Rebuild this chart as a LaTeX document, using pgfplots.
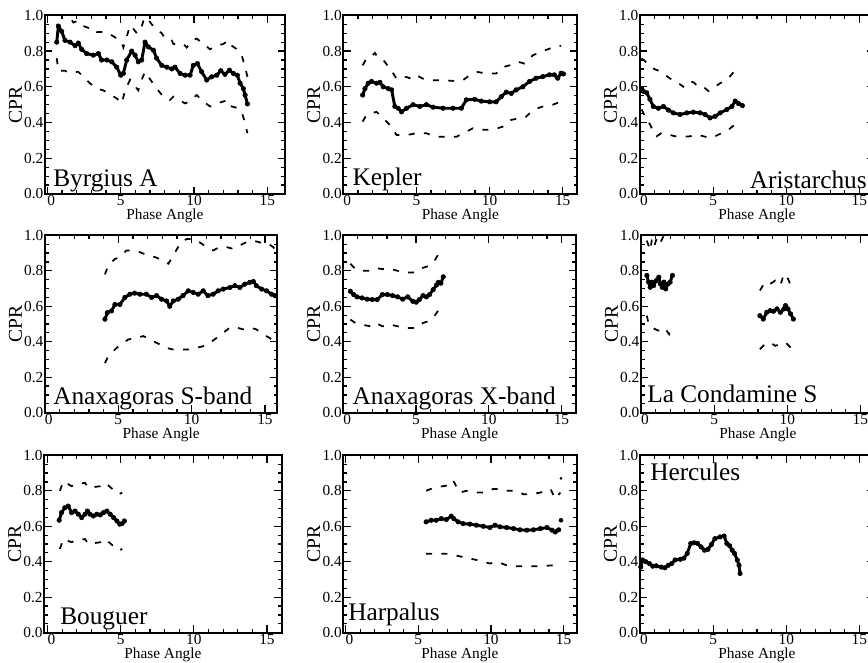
\documentclass[border=0pt]{standalone}
\usepackage{fontspec}
\setmainfont{Liberation Serif}
\usepackage{pgfplots}
\pgfplotsset{compat=1.18}

% 1 px of the reference = 0.75pt
\pgfplotsset{
  panel/.style={
    scale only axis,
    anchor=south west,
    ymin=0, ymax=1,
    ytick={0,0.2,0.4,0.6,0.8,1.0},
    xtick={0,5,10,15},
    xticklabels={\makebox[0pt][l]{0},5,10,15},
    minor x tick num=4, minor y tick num=3,
    tick align=inside,
    major tick length=5.5pt, minor tick length=2.8pt,
    tick style={black, line width=0.9pt},
    axis line style={black, line width=1.6pt},
    /pgf/number format/assume math mode=true,
    y tick label style={/pgf/number format/fixed, /pgf/number format/fixed zerofill, /pgf/number format/precision=1, inner sep=1pt},
    x tick label style={inner sep=1pt},
    tick label style={font=\fontsize{11.5}{13}\selectfont},
    xlabel={Phase Angle}, ylabel={CPR},
    xlabel style={font=\fontsize{11.5}{13}\selectfont, inner sep=1pt},
    ylabel style={font=\fontsize{14.7}{16}\selectfont, inner sep=0.5pt},
    clip mode=individual,
  },
  mid/.style={black, line width=2.2pt, line join=round, mark=*, mark size=1.7pt, mark options={line width=0.4pt}},
  bnd/.style={black, line width=1.3pt, dash pattern=on 4.5pt off 7pt},
}
\tikzset{lab/.style={font=\fontsize{19}{21}\selectfont, inner sep=0pt}}

\begin{document}
\begin{tikzpicture}

% ---------- row 1 ----------
\begin{axis}[panel, at={(33.75pt,-145.5pt)}, width=180pt, height=134pt, xmin=-0.16, xmax=16.2]
\addplot[bnd] coordinates {(0.64,1.12) (0.98,1.08) (1.2,1.03) (1.55,0.99) (1.77,0.96) (2.11,0.97) (2.45,0.94) (2.8,0.93) (3.25,0.925) (3.36,0.907) (3.93,0.907) (4.39,0.888) (4.75,0.87) (5.07,0.85) (5.18,0.82) (5.41,0.88) (5.64,0.944) (5.86,0.925) (6.1,0.9) (6.32,0.907) (6.55,0.97) (6.77,0.99) (7.11,0.95) (7.45,0.92) (7.8,0.9) (8.02,0.87) (8.48,0.86) (8.59,0.84) (9.27,0.84) (9.5,0.82) (9.9,0.86) (10.18,0.87) (10.64,0.84) (11.09,0.81) (11.55,0.83) (12.0,0.84) (12.34,0.86) (12.57,0.83) (13.02,0.805) (13.25,0.777) (13.48,0.71) (13.64,0.656)};
\addplot[bnd] coordinates {(0.64,0.76) (0.75,0.69) (1.2,0.69) (1.43,0.68) (2.11,0.684) (2.9,0.62) (3.36,0.59) (3.82,0.58) (4.73,0.535) (5.07,0.507) (5.3,0.58) (5.64,0.64) (6.2,0.58) (6.43,0.64) (6.66,0.684) (6.89,0.656) (7.45,0.59) (7.9,0.545) (8.36,0.526) (8.59,0.545) (9.39,0.507) (9.61,0.515) (10.18,0.554) (10.64,0.517) (11.09,0.49) (11.55,0.507) (12.34,0.526) (12.57,0.49) (13.02,0.48) (13.25,0.46) (13.48,0.396) (13.64,0.34)};
\addplot[mid] coordinates {(0.64,0.85) (0.75,0.94) (0.98,0.91) (1.2,0.86) (1.55,0.85) (1.89,0.83) (2.11,0.845) (2.34,0.81) (2.68,0.786) (3.14,0.777) (3.48,0.786) (3.7,0.75) (4.05,0.75) (4.39,0.74) (4.73,0.71) (5.0,0.665) (5.18,0.675) (5.41,0.75) (5.75,0.80) (5.98,0.777) (6.2,0.74) (6.43,0.75) (6.66,0.85) (6.89,0.823) (7.23,0.805) (7.45,0.76) (7.8,0.72) (8.14,0.71) (8.48,0.70) (8.7,0.71) (9.05,0.675) (9.39,0.665) (9.73,0.665) (9.95,0.72) (10.23,0.73) (10.52,0.684) (10.86,0.638) (11.2,0.656) (11.55,0.665) (11.82,0.69) (12.11,0.67) (12.41,0.693) (12.68,0.675) (12.95,0.665) (13.14,0.62) (13.36,0.59) (13.48,0.554) (13.64,0.504)};
\node[lab, anchor=base west] at ([shift={(6pt,6pt)}]rel axis cs:0,0) {Byrgius A};
\end{axis}

\begin{axis}[panel, at={(257.5pt,-145.5pt)}, width=175.5pt, height=134pt, xmin=0, xmax=16]
\addplot[bnd] coordinates {(1.32,0.72) (1.59,0.76) (1.93,0.77) (2.16,0.79) (2.39,0.76) (2.73,0.75) (3.3,0.69) (3.64,0.645) (4.32,0.655) (4.66,0.645) (5.0,0.665) (5.45,0.645) (6.14,0.637) (6.82,0.637) (7.5,0.633) (8.18,0.637) (8.64,0.665) (9.2,0.683) (9.77,0.674) (10.45,0.674) (10.9,0.71) (11.36,0.72) (11.93,0.74) (12.39,0.73) (12.95,0.776) (13.64,0.80) (14.32,0.82) (14.89,0.83)};
\addplot[bnd] coordinates {(1.32,0.405) (1.59,0.443) (1.93,0.452) (2.27,0.46) (2.61,0.433) (3.3,0.377) (3.64,0.33) (4.32,0.33) (5.0,0.34) (5.68,0.34) (6.36,0.32) (7.05,0.32) (7.73,0.32) (8.18,0.34) (8.86,0.368) (9.55,0.36) (10.23,0.36) (10.9,0.377) (11.48,0.415) (12.05,0.424) (12.5,0.433) (12.95,0.47) (13.64,0.49) (14.32,0.50) (14.89,0.517)};
\addplot[mid] coordinates {(1.32,0.554) (1.48,0.59) (1.7,0.62) (1.93,0.63) (2.27,0.62) (2.5,0.625) (2.73,0.60) (3.07,0.59) (3.3,0.583) (3.52,0.49) (3.75,0.48) (3.98,0.46) (4.32,0.48) (4.77,0.50) (5.23,0.49) (5.68,0.50) (6.14,0.486) (6.82,0.48) (7.5,0.48) (8.07,0.48) (8.41,0.527) (8.98,0.53) (9.43,0.52) (10.0,0.516) (10.45,0.516) (10.8,0.545) (11.14,0.57) (11.48,0.563) (11.82,0.583) (12.27,0.60) (12.73,0.63) (13.18,0.648) (13.64,0.657) (14.09,0.667) (14.43,0.667) (14.66,0.648) (14.89,0.676) (15.05,0.672)};
\node[lab, anchor=base west] at ([shift={(6.75pt,6.5pt)}]rel axis cs:0,0) {Kepler};
\end{axis}

\begin{axis}[panel, at={(480pt,-145.5pt)}, width=175.5pt, height=134pt, xmin=0, xmax=16]
\addplot[bnd] coordinates {(0.11,0.76) (0.34,0.744) (0.68,0.716) (1.03,0.697) (1.37,0.688) (1.83,0.66) (2.17,0.64) (2.63,0.62) (2.97,0.60) (3.31,0.63) (3.65,0.626) (4.0,0.60) (4.34,0.60) (4.68,0.576) (5.02,0.594) (5.48,0.62) (5.94,0.64) (6.28,0.67) (6.51,0.697) (6.74,0.68)};
\addplot[bnd] coordinates {(0.11,0.473) (0.34,0.435) (0.68,0.39) (0.91,0.35) (1.14,0.323) (1.48,0.342) (1.94,0.333) (2.4,0.323) (2.97,0.32) (3.42,0.323) (3.88,0.333) (4.34,0.323) (4.79,0.314) (5.14,0.323) (5.6,0.342) (6.05,0.36) (6.51,0.39)};
\addplot[mid] coordinates {(0.11,0.59) (0.23,0.575) (0.46,0.566) (0.68,0.53) (0.91,0.49) (1.26,0.48) (1.6,0.49) (1.94,0.47) (2.28,0.454) (2.74,0.445) (3.2,0.454) (3.65,0.458) (4.11,0.454) (4.45,0.445) (4.79,0.426) (5.14,0.435) (5.48,0.454) (5.94,0.473) (6.28,0.49) (6.51,0.52) (6.74,0.506) (7.0,0.495)};
\node[lab, anchor=base east] at ([shift={(-5.25pt,4.5pt)}]rel axis cs:1,0) {Aristarchus};
\end{axis}

% ---------- row 2 ----------
\begin{axis}[panel, at={(33.75pt,-309.5pt)}, width=174.2pt, height=133pt, xmin=0, xmax=15.84]
\addplot[bnd] coordinates {(4.09,0.78) (4.31,0.83) (4.77,0.867) (5.11,0.877) (5.56,0.915) (6.01,0.915) (6.47,0.905) (7.04,0.886) (7.51,0.877) (8.06,0.858) (8.41,0.84) (8.75,0.886) (9.21,0.953) (9.66,0.98) (10.11,0.98) (10.56,0.96) (11.01,0.934) (11.47,0.915) (11.91,0.934) (12.38,0.934) (12.81,0.924) (13.29,0.943) (13.75,0.962) (14.21,0.97) (14.66,0.96) (15.11,0.96) (15.56,0.934) (15.75,0.915)};
\addplot[bnd] coordinates {(4.09,0.28) (4.31,0.318) (4.88,0.365) (5.34,0.394) (5.68,0.413) (6.25,0.422) (6.71,0.432) (7.16,0.413) (7.84,0.384) (8.29,0.365) (8.75,0.356) (9.21,0.356) (9.77,0.356) (10.31,0.365) (10.79,0.375) (11.25,0.394) (11.71,0.422) (12.16,0.45) (12.61,0.48) (13.06,0.48) (13.51,0.47) (13.97,0.48) (14.41,0.47) (14.88,0.44) (15.31,0.422) (15.68,0.394)};
\addplot[mid] coordinates {(4.09,0.527) (4.25,0.564) (4.54,0.574) (4.77,0.61) (5.11,0.61) (5.45,0.65) (5.79,0.668) (6.11,0.674) (6.47,0.668) (6.91,0.668) (7.27,0.65) (7.61,0.66) (7.95,0.64) (8.29,0.63) (8.51,0.60) (8.75,0.63) (9.09,0.64) (9.41,0.66) (9.77,0.687) (10.11,0.678) (10.45,0.668) (10.79,0.687) (11.11,0.66) (11.47,0.668) (11.81,0.687) (12.16,0.697) (12.61,0.706) (12.95,0.716) (13.29,0.706) (13.63,0.725) (13.97,0.735) (14.21,0.74) (14.41,0.716) (14.77,0.697) (15.11,0.687) (15.45,0.668) (15.68,0.66)};
\node[lab, anchor=base west] at ([shift={(6pt,5.8pt)}]rel axis cs:0,0) {Anaxagoras S-band};
\end{axis}

\begin{axis}[panel, at={(257.5pt,-309.5pt)}, width=174.5pt, height=133pt, xmin=0, xmax=16]
\addplot[bnd] coordinates {(0.48,0.84) (0.83,0.81) (1.29,0.8) (1.87,0.8) (2.23,0.815) (2.69,0.81) (3.27,0.81) (3.73,0.8) (4.32,0.79) (4.78,0.79) (5.23,0.8) (5.48,0.817) (5.83,0.826) (6.18,0.845) (6.53,0.892)};
\addplot[bnd] coordinates {(0.48,0.525) (0.83,0.506) (1.29,0.496) (1.87,0.487) (2.23,0.506) (2.69,0.487) (3.27,0.496) (3.73,0.487) (4.32,0.477) (4.78,0.477) (5.23,0.487) (5.48,0.506) (5.83,0.515) (6.18,0.534) (6.53,0.577)};
\addplot[mid] coordinates {(0.48,0.685) (0.71,0.666) (0.94,0.653) (1.29,0.647) (1.63,0.64) (1.99,0.638) (2.33,0.638) (2.69,0.666) (3.03,0.666) (3.39,0.66) (3.73,0.653) (4.08,0.64) (4.43,0.653) (4.78,0.628) (5.01,0.623) (5.23,0.638) (5.48,0.66) (5.71,0.653) (5.93,0.666) (6.18,0.694) (6.41,0.72) (6.53,0.735) (6.71,0.73) (6.87,0.766)};
\node[lab, anchor=base west] at ([shift={(6.75pt,5.8pt)}]rel axis cs:0,0) {Anaxagoras X-band};
\end{axis}

\begin{axis}[panel, at={(480.75pt,-309.5pt)}, width=175.5pt, height=133pt, xmin=0, xmax=16]
\addplot[bnd] coordinates {(0.4,0.97) (0.63,0.915) (0.75,0.98) (0.91,0.94) (1.1,0.99) (1.33,0.96) (1.57,1.0) (1.8,0.98)};
\addplot[bnd] coordinates {(0.4,0.547) (0.52,0.5) (0.75,0.48) (0.99,0.47) (1.22,0.462) (1.45,0.453) (1.69,0.47) (1.92,0.443) (2.15,0.5)};
\addplot[mid] coordinates {(0.4,0.774) (0.52,0.736) (0.63,0.707) (0.75,0.736) (0.87,0.717) (1.05,0.745) (1.22,0.764) (1.33,0.726) (1.45,0.707) (1.57,0.736) (1.69,0.698) (1.85,0.726) (1.99,0.736) (2.15,0.774)};
\addplot[bnd] coordinates {(8.13,0.689) (8.48,0.736) (8.83,0.726) (9.18,0.745) (9.53,0.717) (9.77,0.783) (10.05,0.755) (10.35,0.698)};
\addplot[bnd] coordinates {(8.13,0.358) (8.48,0.387) (8.83,0.396) (9.18,0.377) (9.53,0.387) (9.88,0.396) (10.23,0.368)};
\addplot[mid] coordinates {(8.13,0.547) (8.36,0.528) (8.6,0.566) (8.83,0.575) (9.06,0.572) (9.3,0.585) (9.53,0.566) (9.77,0.585) (9.88,0.604) (10.05,0.585) (10.23,0.557) (10.42,0.528)};
\node[lab, anchor=base west] at ([shift={(4.5pt,7.3pt)}]rel axis cs:0,0) {La Condamine S};
\end{axis}

% ---------- row 3 ----------
\begin{axis}[panel, at={(33.2pt,-474.5pt)}, width=178pt, height=133pt, xmin=-0.23, xmax=16]
\addplot[bnd] coordinates {(0.84,0.8) (1.07,0.854) (1.64,0.826) (1.87,0.836) (2.56,0.845) (2.79,0.817) (3.6,0.826) (3.94,0.845) (4.86,0.78) (5.1,0.79)};
\addplot[bnd] coordinates {(0.84,0.472) (1.07,0.528) (1.64,0.51) (1.87,0.519) (2.56,0.528) (2.79,0.5) (3.6,0.51) (3.94,0.528) (4.86,0.463) (5.1,0.472)};
\addplot[mid] coordinates {(0.79,0.634) (0.95,0.677) (1.18,0.705) (1.41,0.714) (1.64,0.677) (1.87,0.686) (2.1,0.668) (2.33,0.649) (2.56,0.668) (2.72,0.686) (2.9,0.668) (3.13,0.658) (3.36,0.668) (3.6,0.664) (3.82,0.677) (4.05,0.686) (4.28,0.668) (4.51,0.649) (4.74,0.63) (4.93,0.612) (5.1,0.616) (5.25,0.63)};
\node[lab, anchor=base west] at ([shift={(11.8pt,6.5pt)}]rel axis cs:0,0) {Bouguer};
\end{axis}

\begin{axis}[panel, at={(257.5pt,-474.5pt)}, width=175pt, height=133pt, xmin=-0.16, xmax=15.9]
\addplot[bnd] coordinates {(5.54,0.80) (6.0,0.815) (6.23,0.82) (7.0,0.83) (7.39,0.86) (7.85,0.79) (8.3,0.80) (9.0,0.79) (9.47,0.79) (10.16,0.81) (10.5,0.81) (11.2,0.80) (11.8,0.80) (12.24,0.78) (12.7,0.78) (13.4,0.79) (14.1,0.81) (14.43,0.755) (14.78,0.79)};
\addplot[bnd] coordinates {(5.54,0.445) (6.23,0.445) (7.16,0.445) (7.5,0.437) (8.55,0.418) (9.0,0.41) (9.93,0.39) (10.4,0.40) (11.08,0.38) (11.55,0.375) (12.24,0.375) (12.93,0.375) (13.4,0.375) (14.3,0.38) (14.55,0.37)};
\addplot[mid] coordinates {(5.54,0.625) (5.89,0.634) (6.23,0.634) (6.58,0.643) (6.93,0.638) (7.27,0.657) (7.44,0.643) (7.74,0.625) (8.08,0.615) (8.55,0.612) (9.0,0.606) (9.47,0.6) (9.93,0.593) (10.28,0.606) (10.62,0.597) (11.08,0.593) (11.55,0.587) (12.0,0.58) (12.47,0.578) (12.93,0.58) (13.4,0.587) (13.86,0.593) (14.2,0.578) (14.43,0.568) (14.66,0.58)};
\addplot[black, only marks, mark=*, mark size=1.5pt] coordinates {(14.82,0.634)};
\addplot[black, only marks, mark=*, mark size=0.8pt] coordinates {(14.82,0.87)};
\node[lab, anchor=base west] at ([shift={(3.5pt,9.5pt)}]rel axis cs:0,0) {Harpalus};
\end{axis}

\begin{axis}[panel, at={(480pt,-474.5pt)}, width=175.5pt, height=133pt, xmin=0, xmax=16]
\addplot[mid] coordinates {(0.05,0.37) (0.17,0.41) (0.4,0.40) (0.64,0.39) (0.87,0.375) (1.11,0.377) (1.46,0.37) (1.7,0.366) (1.93,0.38) (2.17,0.39) (2.4,0.41) (2.76,0.414) (3.0,0.42) (3.23,0.447) (3.47,0.503) (3.7,0.507) (3.94,0.503) (4.17,0.484) (4.41,0.465) (4.65,0.47) (4.88,0.497) (5.12,0.53) (5.47,0.54) (5.75,0.545) (5.94,0.503) (6.13,0.49) (6.3,0.465) (6.46,0.447) (6.65,0.41) (6.77,0.38) (6.84,0.334)};
\node[lab, anchor=base west] at ([shift={(7.5pt,-18.75pt)}]rel axis cs:0,1) {Hercules};
\end{axis}

\pgfresetboundingbox
\useasboundingbox (0,0) rectangle (651pt,-496.5pt);
\end{tikzpicture}
\end{document}
